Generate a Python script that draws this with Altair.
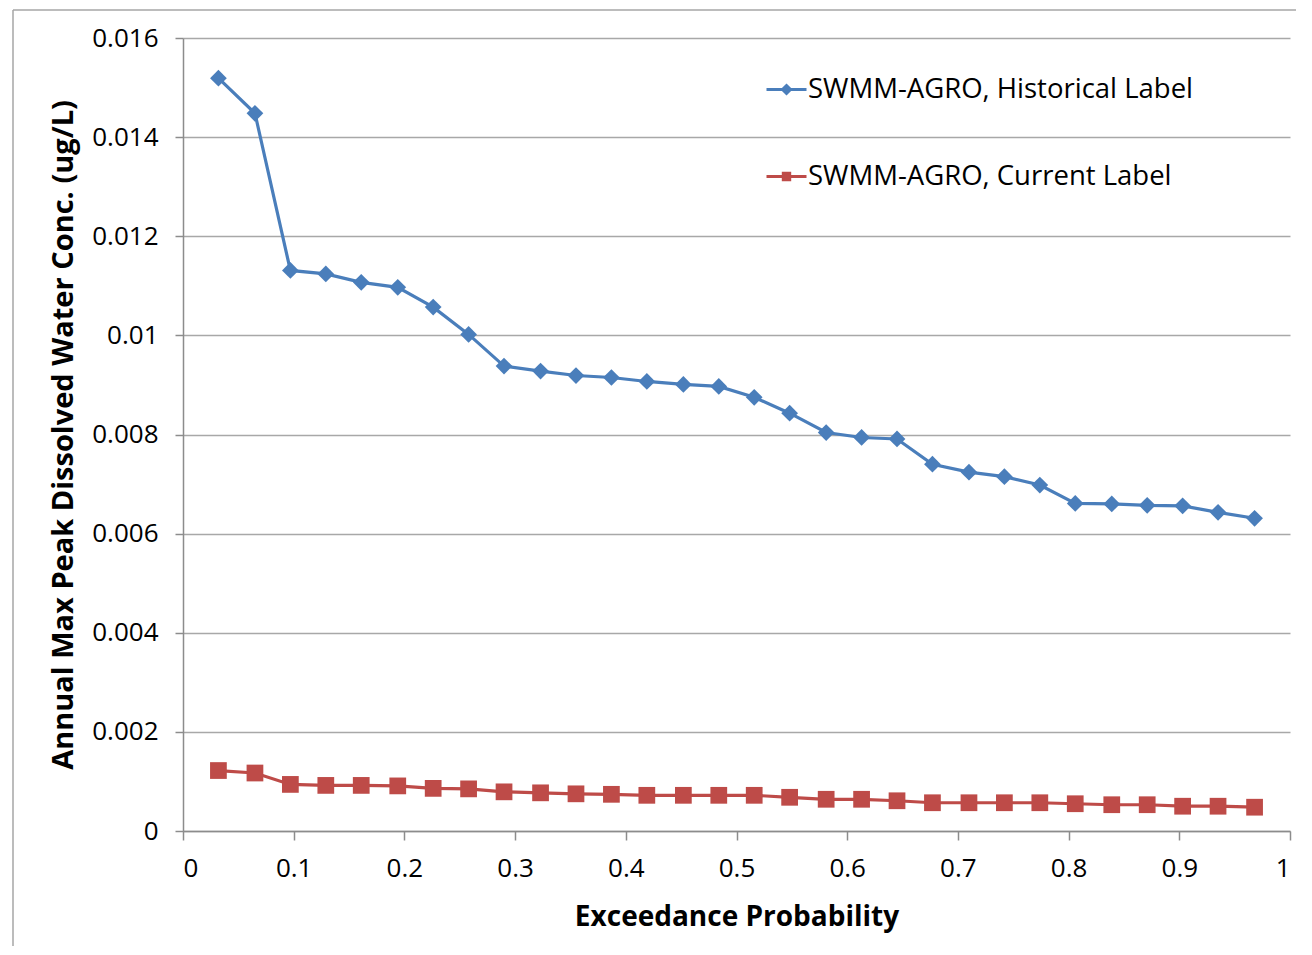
import altair as alt
import pandas as pd

# Exceedance probabilities (x)
x_prob = [0.032, 0.065, 0.097, 0.129, 0.161, 0.194, 0.226, 0.258, 0.290, 0.323,
          0.355, 0.387, 0.419, 0.452, 0.484, 0.516, 0.548, 0.581, 0.613, 0.645,
          0.677, 0.710, 0.742, 0.774, 0.806, 0.839, 0.871, 0.903, 0.935, 0.968]

historical = [0.01519, 0.01448, 0.01131, 0.01124, 0.01107, 0.01097, 0.01057, 0.01002,
              0.00938, 0.00928, 0.00919, 0.00915, 0.00907, 0.00901, 0.00897, 0.00875,
              0.00843, 0.00804, 0.00794, 0.00791, 0.00740, 0.00724, 0.00715, 0.00698,
              0.00661, 0.00660, 0.00657, 0.00656, 0.00643, 0.00631]

current = [0.00122, 0.00117, 0.00094, 0.00092, 0.00092, 0.00091, 0.00086, 0.00085,
           0.00079, 0.00077, 0.00075, 0.00074, 0.00072, 0.00072, 0.00072, 0.00072,
           0.00068, 0.00064, 0.00064, 0.00061, 0.00057, 0.00057, 0.00057, 0.00057,
           0.00055, 0.00053, 0.00053, 0.00050, 0.00050, 0.00048]

series_names = ["SWMM-AGRO, Historical Label", "SWMM-AGRO, Current Label"]
series_colors = ["#4a7ebb", "#be4b48"]
x_ticks = [0, 0.1, 0.2, 0.3, 0.4, 0.5, 0.6, 0.7, 0.8, 0.9, 1]
y_ticks = [0, 0.002, 0.004, 0.006, 0.008, 0.01, 0.012, 0.014, 0.016]

df = pd.concat([
    pd.DataFrame({"p": x_prob, "c": historical, "series": series_names[0]}),
    pd.DataFrame({"p": x_prob, "c": current, "series": series_names[1]}),
], ignore_index=True)

W, H = 1107, 793
FONT = "Open Sans"

x_enc = alt.X("p:Q", scale=alt.Scale(domain=[0, 1], nice=False),
              axis=alt.Axis(values=x_ticks, format="~g", title="Exceedance Probability",
                            grid=False, tickSize=9, labelPadding=15,
                            titleX=W / 2, titleY=86, titleBaseline="middle", titleFontSize=28))
y_enc = alt.Y("c:Q", scale=alt.Scale(domain=[0, 0.016], nice=False),
              axis=alt.Axis(values=y_ticks, format="~g",
                            title="Annual Max Peak Dissolved Water Conc. (ug/L)",
                            grid=True, tickSize=8, labelPadding=17,
                            titleX=-120, titleY=H / 2, titleAngle=270,
                            titleBaseline="middle", titleAlign="center", titleFontSize=29))

color_nolegend = alt.Color("series:N", scale=alt.Scale(domain=series_names, range=series_colors), legend=None)

base = alt.Chart(df)
lines = base.mark_line(strokeWidth=3.2).encode(x=x_enc, y=y_enc, color=color_nolegend)
points = base.mark_point(filled=True, size=280, opacity=1).encode(
    x=x_enc, y=y_enc, color=color_nolegend,
    shape=alt.Shape("series:N", scale=alt.Scale(domain=series_names, range=["diamond", "square"]), legend=None),
)

# legend-only layer (points fall outside the plot and are clipped)
legend = alt.Legend(
    orient="none", legendX=582, legendY=30, title=None,
    labelFont=FONT, labelFontSize=27.5, labelColor="#000000", labelOffset=0, labelLimit=0,
    symbolSize=1600, symbolStrokeWidth=3, rowPadding=52,
)
legend_df = pd.DataFrame({"p": [-1.0, -1.0], "c": [0.0, 0.0], "series": series_names})
legend_shapes = ["M-1,0L1,0M0,-0.2L0.2,0L0,0.2L-0.2,0Z",
                 "M-1,0L1,0M-0.16,-0.16L0.16,-0.16L0.16,0.16L-0.16,0.16Z"]
legend_layer = alt.Chart(legend_df).mark_point(filled=True, clip=True, strokeWidth=3, opacity=1).encode(
    x=alt.X("p:Q"), y=alt.Y("c:Q"),
    fill=alt.Fill("series:N", scale=alt.Scale(domain=series_names, range=series_colors), legend=legend),
    stroke=alt.Stroke("series:N", scale=alt.Scale(domain=series_names, range=series_colors), legend=legend),
    shape=alt.Shape("series:N", scale=alt.Scale(domain=series_names, range=legend_shapes), legend=legend),
)

border_df = pd.DataFrame({"k": [0]})
left_border = alt.Chart(border_df).mark_rule(color="#a6a6a6", strokeWidth=1.5).encode(
    x=alt.value(-170), y=alt.value(-28), y2=alt.value(H + 115))
top_border = alt.Chart(border_df).mark_rule(color="#a6a6a6", strokeWidth=1.5).encode(
    x=alt.value(-170), x2=alt.value(W + 6), y=alt.value(-28))

chart = alt.layer(left_border, top_border, lines, points, legend_layer).resolve_scale(
    color="independent", shape="independent", fill="independent", stroke="independent"
).properties(
    width=W, height=H,
    autosize=alt.AutoSizeParams(type="none"),
    padding={"left": 175, "top": 30, "right": 6, "bottom": 115},
).configure_view(stroke=None).configure_axis(
    labelFont=FONT, labelFontSize=26, labelColor="#000000",
    titleFont=FONT, titleFontWeight="bold", titleColor="#000000",
    domainColor="#8c8c8c", domainWidth=1.5, tickColor="#8c8c8c", tickWidth=1.5,
    gridColor="#a8a8a8", gridWidth=1.5,
)

chart.save("out.html", embed_options={"renderer": "svg", "actions": False})
